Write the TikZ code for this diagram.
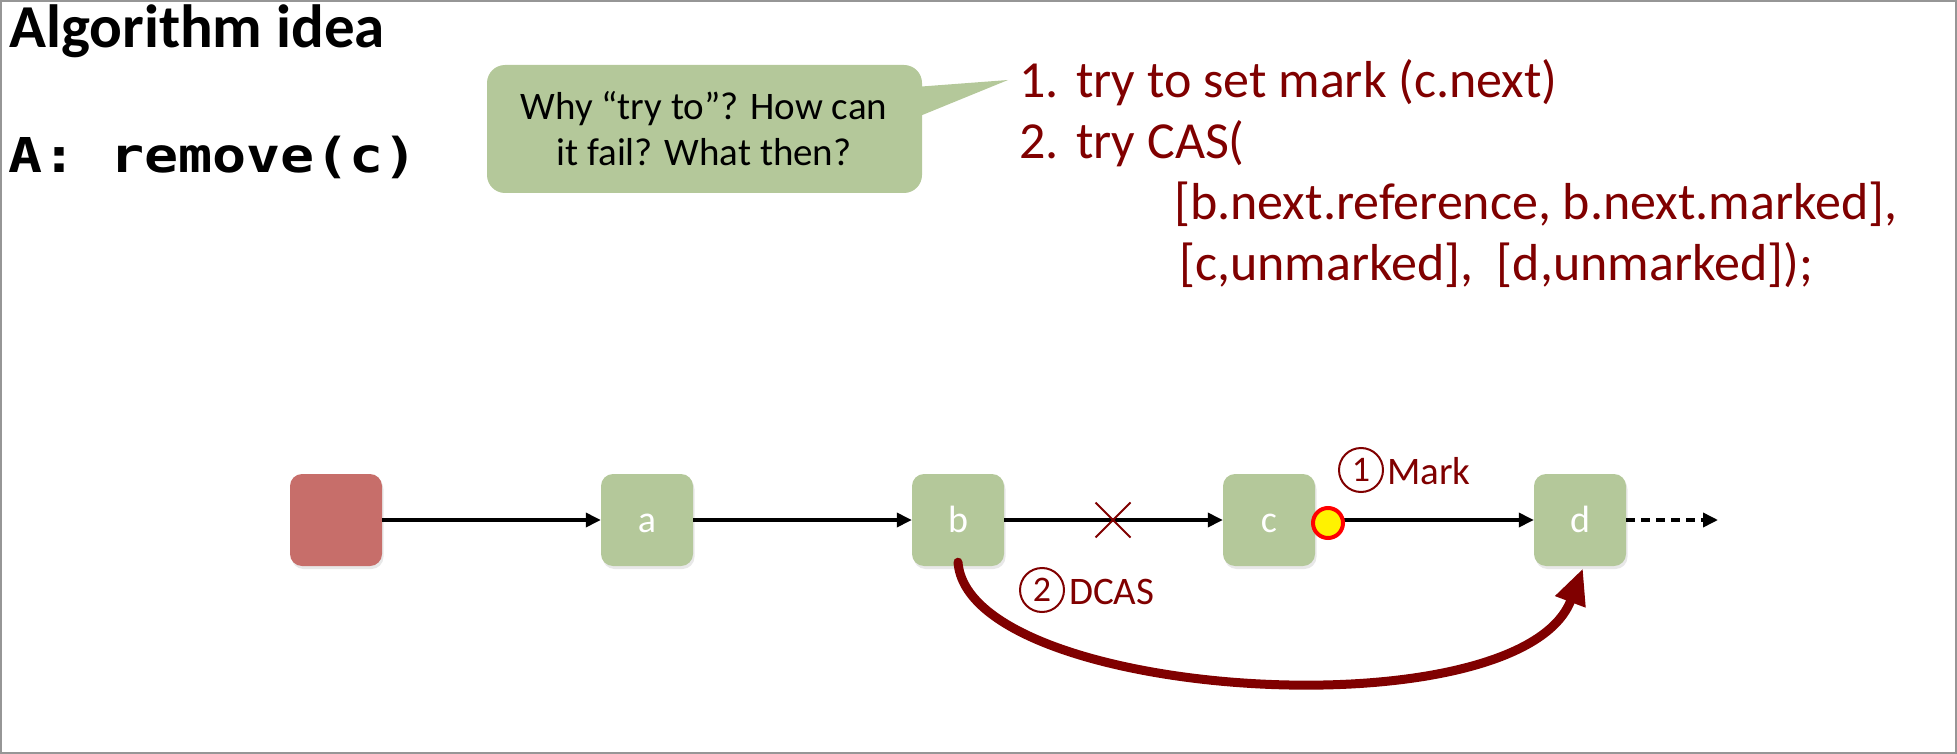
\documentclass[tikz,border=0pt]{standalone}
\usepackage{fontspec}
\setmainfont{Carlito}
\newfontfamily\codefont[FakeStretch=1.18]{DejaVu Sans Mono}
\usetikzlibrary{arrows.meta,shadows,shapes.misc}
\definecolor{nodegreen}{RGB}{180,200,154}
\definecolor{nodered}{RGB}{199,110,106}
\definecolor{darkred}{RGB}{128,0,0}
\definecolor{framegray}{RGB}{150,150,150}
\begin{document}
\begin{tikzpicture}[x=1pt,y=-1pt,
  listnode/.style={rounded corners=12pt, minimum width=92pt, minimum height=92pt, inner sep=0pt,
    text=white, font=\fontsize{38}{42}\selectfont, text height=25pt, text depth=0pt,
    drop shadow={opacity=0.18, shadow xshift=1.5pt, shadow yshift=-3pt}},
  greennode/.style={listnode, fill=nodegreen},
  rednode/.style={listnode, fill=nodered},
  link/.style={line width=3.5pt, -{Triangle[length=15pt,width=14pt]}},
  redtext/.style={text=darkred, font=\fontsize{52}{62}\selectfont, inner sep=0pt, anchor=base west},
  calltext/.style={font=\fontsize{39}{46}\selectfont, inner sep=0pt, anchor=base},
  labeltext/.style={text=darkred, font=\fontsize{39}{46}\selectfont, inner sep=0pt, anchor=base west},
  numcircle/.style={circle, draw=darkred, line width=2pt, minimum size=44pt, inner sep=0pt,
    text=darkred, font=\fontsize{36}{40}\selectfont}
]
\useasboundingbox (0,0) rectangle (1957,754);
\draw[framegray, line width=2pt] (1,1) rectangle (1956,753);

% titles
\node[anchor=base west, inner sep=0pt, font=\fontsize{61}{72}\selectfont\bfseries] (title) at (9,48) {Algorithm idea};
\node[anchor=base west, inner sep=0pt, font=\codefont\bfseries\fontsize{48}{56}\selectfont] (op) at (8,173) {A: remove(c)};

% callout
\fill[nodegreen] (915,87) -- (1008,80) -- (915,118) -- cycle;
\node[fill=nodegreen, rounded corners=18pt, minimum width=435pt, minimum height=128pt, inner sep=0pt] (callout) at (704.5,129) {};
\node[calltext] (q1) at (704,120) {Why “try to”? How can};
\node[calltext] (q2) at (704,166) {it fail? What then?};

% red list
\node[redtext] (n1) at (1019,98) {1.};
\node[redtext] (t1) at (1076,98) {try to set mark (c.next)};
\node[redtext] (n2) at (1019,159) {2.};
\node[redtext] (t2) at (1076,159) {try CAS(};
\node[redtext] (t3) at (1174,220) {[b.next.reference, b.next.marked],};
\node[redtext] (t4) at (1179,280) {[c,unmarked],~~[d,unmarked]);};

% list nodes
\node[rednode] (h) at (336,520) {};
\node[greennode] (a) at (647,520) {a};
\node[greennode] (b) at (958,520) {b};
\node[greennode] (c) at (1269,520) {c};
\node[greennode] (d) at (1580,520) {d};
\coordinate (tail) at (1718,520);

\draw[link] (h) -- (a);
\draw[link] (a) -- (b);
\draw[link] (b) -- (c);
\draw[link] (c) -- (d);
\draw[link, dash pattern=on 9pt off 6pt] (d) -- (tail);

\node[cross out, draw=darkred, line width=2pt, minimum size=33pt, inner sep=0pt] (cross) at (1113,520) {};
\node[circle, fill=yellow, draw=red, line width=4pt, minimum size=30pt, inner sep=0pt] (mk) at (1328,523) {};

% labels
\node[numcircle] (one) at (1361,470) {1};
\node[labeltext] (marklbl) at (1387,484) {Mark};
\node[numcircle] (two) at (1042,590) {2};
\node[labeltext] (dcas) at (1069,604) {DCAS};

% DCAS curve
\draw[darkred, line width=9pt, line cap=round, -{Triangle[length=36pt,width=30pt]}]
  ([yshift=4pt]b.south) .. controls (968,700) and (1520,735) .. ([xshift=3pt,yshift=-2pt]d.south);
\end{tikzpicture}
\end{document}
